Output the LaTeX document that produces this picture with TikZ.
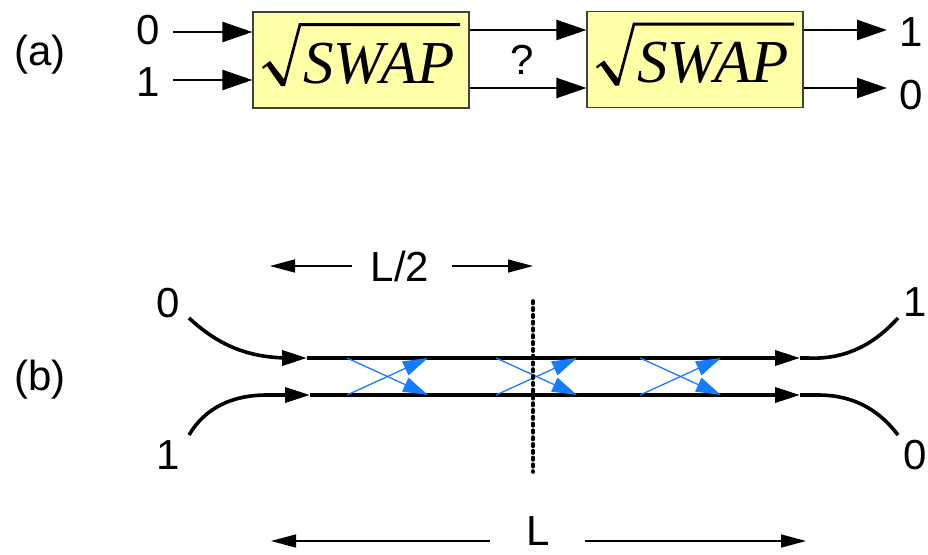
\documentclass[tikz,border=0pt]{standalone}
\usepackage{fontspec}
\setmainfont{Liberation Sans}
\newfontfamily\gateface{Liberation Serif}
\usetikzlibrary{arrows.meta}
\definecolor{swapfill}{RGB}{255,255,166}
\definecolor{coupleblue}{RGB}{22,124,255}
\begin{document}
\begin{tikzpicture}[x=1pt,y=-1pt,
  lbl/.style={font=\fontsize{42}{48}\selectfont, inner sep=0pt},
  gate/.style={draw=black!75, line width=1.2pt, fill=swapfill,
    minimum width=216pt, minimum height=96pt, inner sep=0pt},
  gatetext/.style={font=\gateface\itshape\fontsize{61}{61}\selectfont,
    inner sep=0pt, anchor=base},
  rootsign/.pic={
    \fill (-99,7) -- (-91,1) -- (-77,19) -- (-62,-37) -- (99,-37) -- (99,-34)
      -- (-60,-34) -- (-76,26) -- (-80,26) -- (-94,6) -- (-98,9) -- cycle;
  },
  wire/.style={line width=2.4pt, -{Triangle[length=30pt,width=20pt]}},
  guide/.style={line width=3.6pt},
  gtip/.style={guide, -{Triangle[length=25pt,width=15pt]}},
  coupl/.style={draw=coupleblue, line width=1.3pt, -{Triangle[length=25pt,width=15pt]}},
  dim/.style={line width=1.5pt, -{Triangle[length=25pt,width=13pt]}},
]
\useasboundingbox (0,0) rectangle (928,554);

% ---------- (a) two square-root-of-SWAP gates in series ----------
\node[lbl] at (40,55) {(a)};
\node[gate] (g1) at (361,60) {};
\node[gate] (g2) at (695,59.5) {};
\node[gatetext, xshift=18pt, yshift=-23pt] (s1) at (g1) {SWAP};
\node[gatetext, xshift=18pt, yshift=-23pt] (s2) at (g2) {SWAP};
\pic at (g1) {rootsign};
\pic at (g2) {rootsign};

\node[lbl] (i0) at (148,30) {0};
\node[lbl] (i1) at (148,82) {1};
\node[lbl] (o1) at (911,32) {1};
\node[lbl] (o0) at (911,95) {0};
\node[lbl] (q) at (522,60) {?};

\coordinate (ia) at (173,32);
\coordinate (ib) at (173,80);
\coordinate (ma) at (0,30);
\coordinate (mb) at (0,88);
\coordinate (oa) at (887,30);
\coordinate (ob) at (887,88);
\draw[wire] (ia) -- (g1.west |- ia);
\draw[wire] (ib) -- (g1.west |- ib);
\draw[wire] (g1.east |- ma) -- (g2.west |- ma);
\draw[wire] (g1.east |- mb) -- (g2.west |- mb);
\draw[wire] (g2.east |- oa) -- (oa);
\draw[wire] (g2.east |- ob) -- (ob);

% ---------- (b) directional coupler of length L ----------
\node[lbl] at (40,380) {(b)};
\node[lbl] (p0) at (168,303) {0};
\node[lbl] (p1) at (168,455) {1};
\node[lbl] (r1) at (915,302) {1};
\node[lbl] (r0) at (915,455) {0};

% upper guide
\coordinate (ua) at (189,318);
\coordinate (ub) at (290,358);
\coordinate (uc) at (307,358);
\coordinate (ud) at (800,358);
\coordinate (ue) at (898,318);
\draw[guide] (ua) .. controls (218,345) and (248,358) .. (ub);
\draw[gtip] (ub) -- (uc);
\draw[gtip] (uc) -- (ud);
\draw[guide] (ud) -- (808,358) .. controls (850,360) and (878,340) .. (ue);

% lower guide
\coordinate (la) at (189,435);
\coordinate (lb) at (267,395);
\coordinate (lc) at (310,395);
\coordinate (ld) at (800,395);
\coordinate (le) at (898,435);
\draw[guide] (la) .. controls (205,408) and (232,395) .. (lb);
\draw[gtip] (lb) -- (lc);
\draw[gtip] (lc) -- (ld);
\draw[guide] (ld) -- (818,395) .. controls (858,395) and (882,414) .. (le);

% coupling between the guides
\foreach \cx [count=\k] in {347,496,640} {
  \coordinate (ct\k) at (\cx,358);
  \coordinate (cb\k) at (\cx,395);
  \coordinate (dt\k) at (\cx+81,358);
  \coordinate (db\k) at (\cx+81,395);
  \draw[coupl] (ct\k) -- (db\k);
  \draw[coupl] (cb\k) -- (dt\k);
}

% mid-plane of the coupler
\coordinate (mt) at (533,301);
\coordinate (mbt) at (533,472);
\draw[line width=3.6pt, line cap=round, dash pattern=on 2.5pt off 4.3pt] (mt) -- (mbt);

% dimensions
\node[lbl] (half) at (400,266) {L/2};
\coordinate (h1) at (352,266);
\coordinate (h2) at (270,266);
\coordinate (h3) at (452,266);
\coordinate (h4) at (533,266);
\draw[dim] (h1) -- (h2);
\draw[dim] (h3) -- (h4);

\node[lbl] (full) at (538,531) {L};
\coordinate (f1) at (490,541);
\coordinate (f2) at (271,541);
\coordinate (f3) at (585,541);
\coordinate (f4) at (806,541);
\draw[dim] (f1) -- (f2);
\draw[dim] (f3) -- (f4);
\end{tikzpicture}
\end{document}
